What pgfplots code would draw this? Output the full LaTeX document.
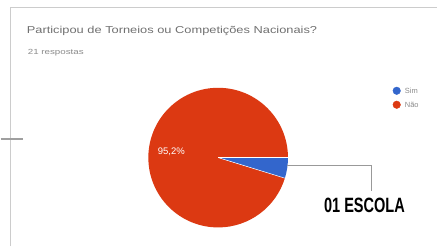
\documentclass[border=0pt]{standalone}
\usepackage{pgfplots}
\pgfplotsset{compat=1.18}
\usepackage{pgfplotstable}
\usepackage{graphicx}
\usepackage{fontspec}
\setmainfont{Liberation Sans}
\definecolor{simblue}{HTML}{3366CC}
\definecolor{naored}{HTML}{DC3912}
\definecolor{titlegray}{HTML}{707070}
\definecolor{subgray}{HTML}{8A8A8A}

\pgfplotstableread{
label value
Sim 1
Nao 20
}\piedata

\begin{document}
\begin{tikzpicture}
\pgfplotstablegetelem{0}{value}\of\piedata \let\simv\pgfplotsretval
\pgfplotstablegetelem{1}{value}\of\piedata \let\naov\pgfplotsretval
\pgfmathsetmacro{\simang}{360*\simv/(\simv+\naov)}
\pgfmathsetmacro{\naopct}{100*\naov/(\simv+\naov)}
\begin{axis}[
  scale only axis, width=437pt, height=247pt,
  xmin=0, xmax=437, ymin=0, ymax=247,
  hide axis, clip=false,
]
\path (axis cs:0,0) rectangle (axis cs:437,247);
% frame
\draw[gray!40, line width=0.8pt] (axis cs:10,0) -- (axis cs:10,240) -- (axis cs:437,240);
\draw[gray!75, line width=1.4pt] (axis cs:0,107.5) -- (axis cs:22,107.5);
% title
\node[anchor=base west, inner sep=0, text=titlegray] at (axis cs:26,213)
  {\resizebox{291pt}{7.3pt}{Participou de Torneios ou Competições Nacionais?}};
\node[anchor=base west, inner sep=0, text=subgray] at (axis cs:27,192.5)
  {\resizebox{56pt}{5.2pt}{21 respostas}};
% pie
\fill[naored] (axis cs:218,89) -- ++(0:70pt) arc[start angle=0, end angle=360-\simang, radius=70pt] -- cycle;
\fill[simblue] (axis cs:218,89) -- ++(0:70pt) arc[start angle=0, end angle=-\simang, radius=70pt] -- cycle;
\draw[white, line width=0.5pt] (axis cs:218,89) -- ++(0:70pt);
\draw[white, line width=0.5pt] (axis cs:218,89) -- ++(-\simang:70pt);
\node[text=white, inner sep=0] at (axis cs:171,95)
  {\resizebox{27pt}{!}{95,2\%}};
% legend
\addplot[only marks, mark=*, mark size=3.8pt, mark options={fill=simblue, draw=simblue}] coordinates {(397,156)};
\addplot[only marks, mark=*, mark size=3.8pt, mark options={fill=naored, draw=naored}] coordinates {(397,142)};
\node[anchor=west, inner sep=0, text=subgray, font=\fontsize{7.5}{9}\selectfont] at (axis cs:405,156) {Sim};
\node[anchor=west, inner sep=0, text=subgray, font=\fontsize{7.5}{9}\selectfont] at (axis cs:405,142) {Não};
% callout
\draw[gray!80, line width=0.8pt] (axis cs:287,81) -- (axis cs:372,81) -- (axis cs:372,56);
\node[anchor=base west, inner sep=0, text=black] at (axis cs:324,34)
  {\resizebox{81pt}{14.5pt}{\bfseries 01 ESCOLA}};
\end{axis}
\end{tikzpicture}
\end{document}
